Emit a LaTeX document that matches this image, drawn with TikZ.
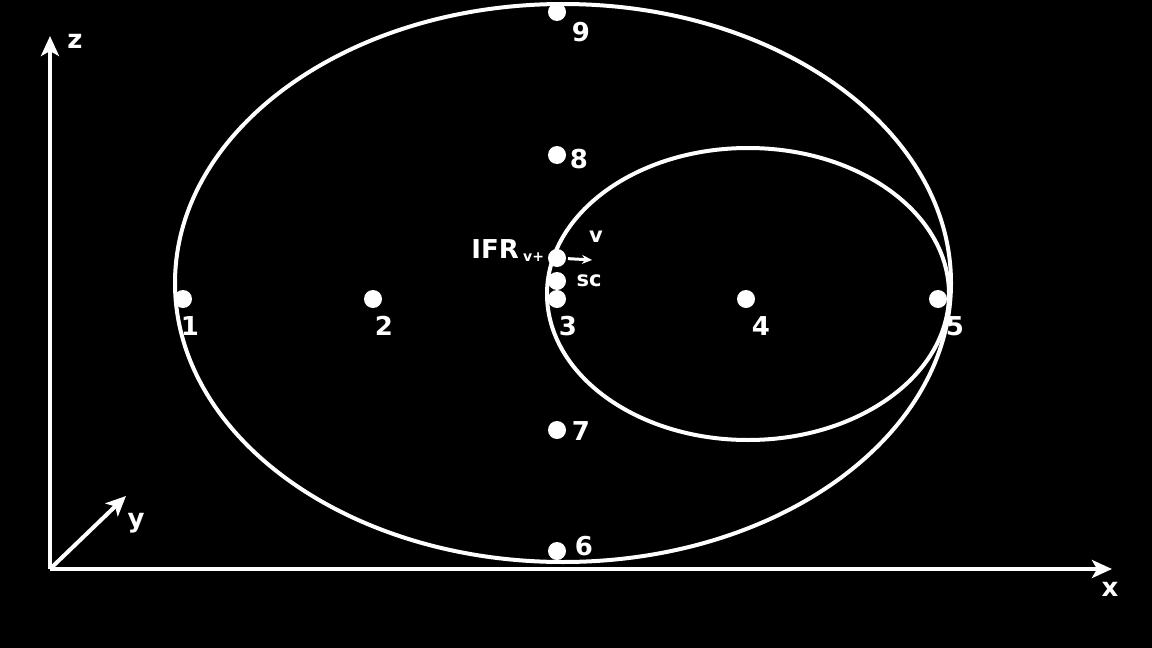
\documentclass[tikz,border=0pt]{standalone}
\usepackage{fontspec}
\setmainfont{DejaVu Sans}
\usetikzlibrary{arrows.meta}
\tikzset{
  dot/.style={circle, fill=white, inner sep=0pt, minimum size=18pt},
  num/.style={text=white, inner sep=0pt, font=\bfseries\fontsize{26}{26}\selectfont},
  small/.style={text=white, inner sep=0pt, font=\bfseries\fontsize{21}{21}\selectfont},
  axis/.style={line width=4pt, -{Stealth[length=20pt, width=18pt, inset=5pt]}}
}
\begin{document}
\begin{tikzpicture}[x=1pt, y=-1pt, line width=4pt, white]
\fill[black] (0,0) rectangle (1152,648);
\useasboundingbox (0,0) rectangle (1152,648);
\draw (563,283) ellipse (388pt and 279pt);
\draw (748,294) ellipse (201pt and 146pt);
\coordinate (origin) at (50,569);
\coordinate (end_z) at (50,36);
\coordinate (end_x) at (1112,569);
\coordinate (end_y) at (126,496);
\draw[axis] (origin) -- (end_z);
\draw[axis] (origin) -- (end_x);
\draw[axis] (origin) -- (end_y);
\node[num] (label_z) at (75,41) {z};
\node[num] (label_x) at (1110,589) {x};
\node[num] (label_y) at (136,523) {y};
\node[dot] (node_1) at (183,299) {};
\node[dot] (node_2) at (373,299) {};
\node[dot] (node_3) at (557,299) {};
\node[dot] (node_4) at (746,299) {};
\node[dot] (node_5) at (938,299) {};
\node[dot] (node_6) at (557,551) {};
\node[dot] (node_7) at (557,430) {};
\node[dot] (node_8) at (557,155) {};
\node[dot] (node_9) at (557,12) {};
\node[dot] (node_sc) at (557,281) {};
\node[dot] (node_IFR) at (557,258) {};
\node[num] (label_1) at (190,326) {1};
\node[num] (label_2) at (384,326) {2};
\node[num] (label_3) at (568,326) {3};
\node[num] (label_4) at (761,326) {4};
\node[num] (label_5) at (955,326) {5};
\node[num] (label_6) at (584,546) {6};
\node[num] (label_7) at (581,431) {7};
\node[num] (label_8) at (579,159) {8};
\node[num] (label_9) at (581,32) {9};
\node[num, anchor=east] (label_IFR) at (546,251)
  {IFR\,\raisebox{-3pt}{\fontsize{14}{14}\selectfont v+}};
\node[small] (label_sc) at (589,281) {sc};
\node[small] (label_v) at (596,237) {v};
\coordinate (tip_v) at (592,260);
\draw[line width=3pt, -{Stealth[length=10pt, width=9pt]}] (node_IFR) -- (tip_v);
\end{tikzpicture}
\end{document}
